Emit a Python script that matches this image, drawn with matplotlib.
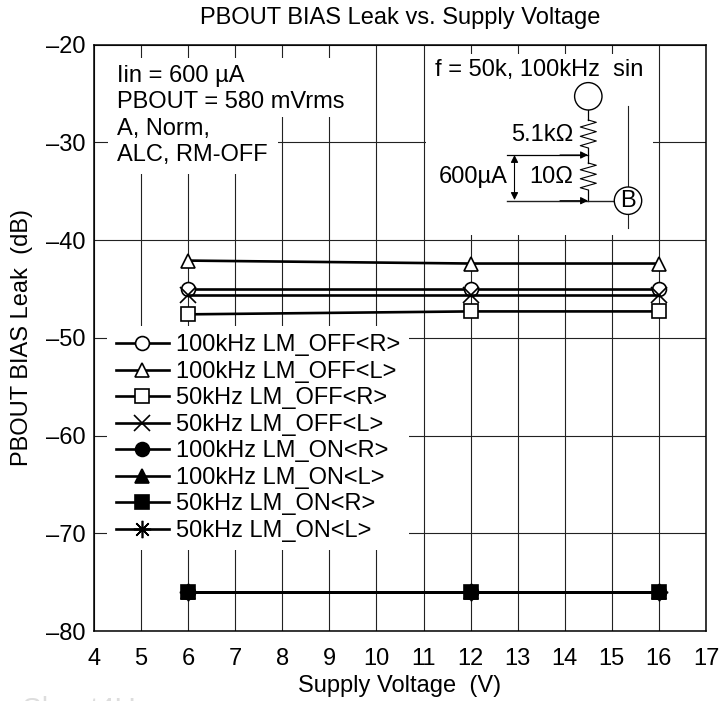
import matplotlib
matplotlib.use('Agg')
import matplotlib.pyplot as plt
from matplotlib.patches import Rectangle, Circle

FS = 17
plt.rcParams['font.family'] = ['Liberation Sans', 'DejaVu Sans']
plt.rcParams['font.size'] = FS

# Data
voltage = [6, 12, 16]
off_100k_r = [-45.0, -45.0, -45.0]
off_100k_l = [-42.1, -42.4, -42.4]
off_50k_r = [-47.6, -47.3, -47.3]
off_50k_l = [-45.6, -45.6, -45.6]
on_100k_r = [-76.0, -76.0, -76.0]
on_100k_l = [-76.0, -76.0, -76.0]
on_50k_r = [-76.0, -76.0, -76.0]
on_50k_l = [-76.0, -76.0, -76.0]

labels = ['100kHz LM_OFF<R>', '100kHz LM_OFF<L>', '50kHz LM_OFF<R>', '50kHz LM_OFF<L>',
          '100kHz LM_ON<R>', '100kHz LM_ON<L>', '50kHz LM_ON<R>', '50kHz LM_ON<L>']
x_ticks = list(range(4, 18))
y_ticks = [-20, -30, -40, -50, -60, -70, -80]
y_tick_labels = ['–20', '–30', '–40', '–50', '–60', '–70', '–80']

W, H = 722, 701
fig = plt.figure(figsize=(W / 100, H / 100), dpi=100)
ax = fig.add_axes([94 / W, 1 - 631 / H, (706 - 94) / W, (631 - 44.6) / H])


def draw(values, label, marker, fill, size=10.0, lw=1.9):
    ax.plot(voltage, values, color='black', lw=lw, marker=marker, ms=size,
            mfc=fill, mec='black', mew=1.2, label=label, clip_on=False, zorder=3)


draw(off_100k_r, labels[0], 'o', 'white')
draw(off_100k_l, labels[1], '^', 'white')
draw(off_50k_r, labels[2], 's', 'white')
draw(off_50k_l, labels[3], 'x', 'none', size=11.5)
draw(on_100k_r, labels[4], 'o', 'black')
draw(on_100k_l, labels[5], '^', 'black')
draw(on_50k_r, labels[6], 's', 'black')
draw(on_50k_l, labels[7], (8, 2, 0), 'black', size=12.5)

ax.set_xlim(4, 17)
ax.set_ylim(-80, -20)
ax.set_xticks(x_ticks)
ax.set_yticks(y_ticks)
ax.set_yticklabels(y_tick_labels)
ax.tick_params(length=0, labelsize=FS, pad=6)
ax.tick_params(axis='x', pad=12)
ax.grid(True, color='#222222', lw=0.8)
ax.set_axisbelow(True)
for s in ax.spines.values():
    s.set_linewidth(1.1)

leg = ax.legend(loc='upper left', bbox_to_anchor=((107 - 94) / 612, 1 - (326 - 44.6) / 586.4),
                borderaxespad=0, frameon=True, framealpha=1, fancybox=False, edgecolor='none',
                fontsize=FS, handlelength=2.25, handletextpad=0.33, labelspacing=0.19,
                borderpad=0.36)
leg.set_zorder(4)

# overlay in pixel coordinates for the white cut-outs, titles and the circuit sketch
ov = fig.add_axes([0, 0, 1, 1], facecolor='none')
ov.set_xlim(0, W)
ov.set_ylim(H, 0)
ov.axis('off')

ov.text(400, 18, 'PBOUT BIAS Leak vs. Supply Voltage', ha='center', va='center')
ov.text(400, 686, 'Supply Voltage  (V)', ha='center', va='center')
ov.text(22, 338, 'PBOUT BIAS Leak  (dB)', ha='center', va='center', rotation=90)

for x0, y0, x1, y1 in [(108, 58, 345, 117), (108, 117, 278, 174), (426, 54, 653, 235)]:
    ov.add_patch(Rectangle((x0, y0), x1 - x0, y1 - y0, fc='white', ec='none', zorder=1))

for i, t in enumerate(['Iin = 600 µA', 'PBOUT = 580 mVrms', 'A, Norm,', 'ALC, RM-OFF']):
    ov.text(117, 76 + i * 26.3, t, va='center', ha='left', zorder=5)

ov.text(435, 70, 'f = 50k, 100kHz  sin', va='center', zorder=5)
ov.text(573, 135, '5.1kΩ', va='center', ha='right', zorder=5)
ov.text(573, 177, '10Ω', va='center', ha='right', zorder=5)
ov.text(439, 177, '600µA', va='center', ha='left', zorder=5)


def zigzag(y0, y1, n=3, x=588.3, w=8):
    xs, ys = [x], [y0]
    step = (y1 - y0) / (2 * n)
    for k in range(2 * n):
        xs.append(x + (w if k % 2 == 0 else -w))
        ys.append(y0 + step * (k + 0.5))
    xs.append(x)
    ys.append(y1)
    return xs, ys


ov.plot([628, 628], [106, 228], color='#222222', lw=0.8, zorder=2)
ov.add_patch(Circle((588.3, 96.3), 13.7, fc='white', ec='black', lw=1.0, zorder=3))
ov.add_patch(Circle((628, 200.7), 13.7, fc='white', ec='black', lw=1.0, zorder=3))
ov.text(628, 201, 'B', ha='center', va='center', zorder=5)

ov.plot([588.3, 588.3], [110, 120], color='black', lw=0.9, zorder=2)
zx, zy = zigzag(120, 148)
ov.plot(zx, zy, color='black', lw=0.8, zorder=2)
ov.plot([588.3, 588.3], [148, 163], color='black', lw=0.9, zorder=2)
zx, zy = zigzag(163, 190)
ov.plot(zx, zy, color='black', lw=0.8, zorder=2)
ov.plot([588.3, 588.3], [190, 200.7], color='black', lw=0.9, zorder=2)
ov.plot([507, 614.5], [200.7, 200.7], color='#222222', lw=1.0, zorder=2)
ov.plot([507, 588], [155, 155], color='black', lw=0.9, zorder=2)

arrow = dict(arrowstyle='-|>', color='black', lw=0.8, mutation_scale=11, shrinkA=0, shrinkB=0)
ov.annotate('', xy=(588, 155), xytext=(560, 155), arrowprops=arrow, zorder=4)
ov.annotate('', xy=(588, 200.7), xytext=(560, 200.7), arrowprops=arrow, zorder=4)
ov.annotate('', xy=(514.5, 155), xytext=(514.5, 200), arrowprops=dict(arrow, arrowstyle='<|-|>'), zorder=4)

# watermark, only its top shows at the bottom edge of the picture
ov.text(-2, 718, 'a Sheet4U', fontsize=21, color='#dddddd', va='baseline', ha='left', clip_on=False)

fig.savefig('out.png', dpi=100)
